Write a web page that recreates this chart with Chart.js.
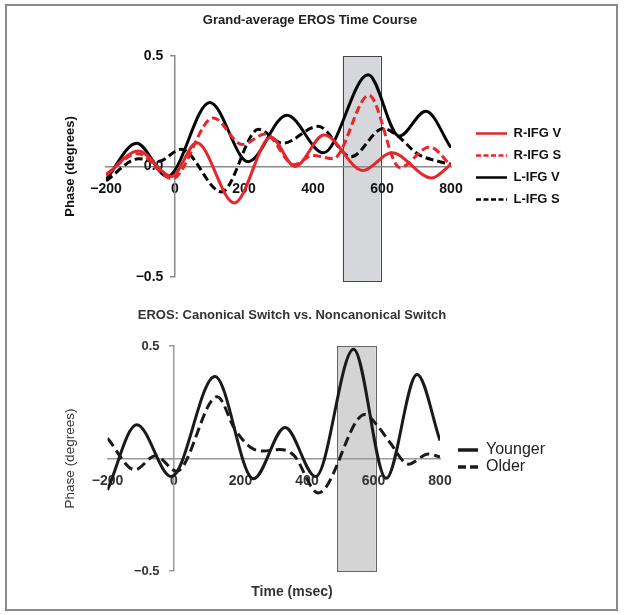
<!DOCTYPE html>
<html><head><meta charset="utf-8">
<script src="https://cdn.jsdelivr.net/npm/chart.js@4.4.1/dist/chart.umd.min.js"></script>
<style>
html,body{margin:0;padding:0;background:#fff;}
#wrap{position:relative;width:624px;height:615px;overflow:hidden;background:#fff;}
#frame{position:absolute;left:5px;top:4px;width:613px;height:607px;border:2px solid #8a8a8a;box-sizing:border-box;}
#c1{position:absolute;left:0;top:0;}
#c2{position:absolute;left:0;top:300px;}
</style></head><body>
<div id="wrap"><div id="frame"></div>
<canvas id="c1" width="624" height="300"></canvas>
<canvas id="c2" width="624" height="315"></canvas>
</div>
<script>
// ---------- data ----------
const xTickValues = [-200, 0, 200, 400, 600, 800];

// Top chart: Grand-average EROS Time Course
const rifgVTime  = [-200, -106, -10, 63, 172, 278, 348, 432, 545, 628, 744, 800];
const rifgVPhase = [-0.04, 0.07, -0.045, 0.107, -0.165, 0.132, 0.0, 0.142, -0.018, 0.062, -0.052, 0.01];

const rifgSTime  = [-200, -108, -8, 111, 195, 262, 345, 400, 458, 562, 652, 738, 800];
const rifgSPhase = [-0.035, 0.058, -0.055, 0.22, 0.1, 0.147, 0.008, 0.05, 0.035, 0.322, -0.005, 0.088, 0.005];

const lifgVTime  = [-200, -111, -22, 101, 212, 324, 430, 560, 650, 727, 800];
const lifgVPhase = [-0.06, 0.105, -0.045, 0.29, 0.022, 0.232, 0.062, 0.415, 0.137, 0.25, 0.085];

const lifgSTime  = [-200, -105, -50, 18, 135, 242, 312, 415, 510, 604, 640, 705, 760, 800];
const lifgSPhase = [-0.065, 0.035, 0.022, 0.078, -0.115, 0.168, 0.105, 0.182, 0.044, 0.172, 0.145, 0.055, 0.025, 0.01];

const topWindow = [486, 596];        // shaded time window (msec)
const topWindowPhase = [0.5, -0.52];

// Bottom chart: Canonical vs Noncanonical switch
const youngerTime  = [-200, -112, -8, 123, 239, 334, 426, 540, 638, 731, 800];
const youngerPhase = [-0.14, 0.15, -0.08, 0.365, -0.09, 0.138, -0.08, 0.486, -0.088, 0.373, 0.08];

const olderTime  = [-200, -118, -55, 8, 130, 183, 230, 268, 318, 360, 434, 574, 615, 650, 705, 765, 800];
const olderPhase = [0.09, -0.05, 0.012, -0.057, 0.275, 0.13, 0.05, 0.033, 0.04, 0.015, -0.153, 0.196, 0.14, 0.07, -0.025, 0.02, 0.007];

const bottomWindow = [491, 607];
const bottomWindowPhase = [0.5, -0.5];

// ---------- helpers ----------
const xy = (ts, vs) => ts.map((t, i) => ({x: t, y: vs[i]}));
const fmtX = v => (v < 0 ? '\u2212' + Math.abs(v) : String(v));
const fmtY = v => (Math.abs(v) < 1e-9 ? '0.0' : (v < 0 ? '\u2212' : '') + Math.abs(v).toFixed(1));
const FONT = "'Liberation Sans', Arial, Helvetica, sans-serif";
Chart.defaults.font.family = FONT;

const shadePlugin = {
  id: 'shade',
  beforeDraw(chart, args, o) {
    const {ctx} = chart, x = chart.scales.x, y = chart.scales.y;
    const x0 = x.getPixelForValue(o.from), x1 = x.getPixelForValue(o.to);
    const y0 = y.getPixelForValue(o.top), y1 = y.getPixelForValue(o.bottom);
    ctx.save();
    ctx.fillStyle = o.fill;
    ctx.fillRect(x0, y0, x1 - x0, y1 - y0);
    ctx.strokeStyle = o.stroke; ctx.lineWidth = 1;
    ctx.strokeRect(Math.round(x0) + 0.5, Math.round(y0) + 0.5, Math.round(x1 - x0), Math.round(y1 - y0));
    ctx.restore();
  }
};

function hiddenAxis(extra) {
  return Object.assign({
    type: 'linear', axis: 'y', display: true,
    ticks: {display: false}, grid: {display: false, drawTicks: false},
    border: {display: false}
  }, extra);
}

function makeChart(el, cfg) {
  const baseLabels = Chart.defaults.plugins.legend.labels.generateLabels;
  return new Chart(el, {
    type: 'line',
    data: {datasets: cfg.datasets},
    plugins: [shadePlugin],
    options: {
      responsive: false, animation: false, devicePixelRatio: 1,
      layout: {padding: cfg.padding},
      elements: {point: {radius: 0}, line: {cubicInterpolationMode: 'monotone', borderCapStyle: 'butt'}},
      scales: {
        x: {
          type: 'linear', position: {y: 0}, min: -200, max: 800,
          afterBuildTicks: s => { s.ticks = xTickValues.map(v => ({value: v})); },
          ticks: {callback: fmtX, font: {size: 14, weight: 'bold'}, color: cfg.tickColor, padding: cfg.xPad, maxRotation: 0, autoSkip: false},
          grid: {display: false, drawTicks: false},
          border: {color: cfg.axisColor, width: 1.5}
        },
        y: {
          type: 'linear', position: {x: 0}, min: -0.5, max: 0.5,
          ticks: {stepSize: 0.5, callback: cfg.yFmt, font: {size: cfg.yTickSize, weight: 'bold'}, color: cfg.tickColor, padding: 0},
          grid: {display: true, drawOnChartArea: false, drawTicks: true, tickLength: 4, color: cfg.axisColor, lineWidth: 1.5},
          border: {color: cfg.axisColor, width: 1.5}
        },
        yTitle: hiddenAxis({position: 'left',
          title: {display: true, text: 'Phase (degrees)', font: cfg.yTitleFont, color: cfg.yTitleColor, padding: cfg.yTitlePad}}),
        rGap: hiddenAxis({position: 'right', weight: 0, afterFit: s => { s.width = cfg.gap; }}),
        rEnd: hiddenAxis({position: 'right', weight: 2000, afterFit: s => { s.width = cfg.endW; }})
      },
      plugins: {
        shade: cfg.shade,
        title: {display: true, text: cfg.title, font: {size: 13, weight: 'bold'}, color: cfg.titleColor, padding: cfg.titlePad},
        subtitle: cfg.subtitle,
        legend: {
          display: true, position: 'right', align: 'center', fullSize: false, maxWidth: cfg.legendW,
          labels: {
            usePointStyle: true, pointStyle: 'line', pointStyleWidth: cfg.legendLine,
            font: cfg.legendFont, color: cfg.legendColor, padding: cfg.legendPad,
            generateLabels: chart => baseLabels(chart).map(item => {
              const ds = chart.data.datasets[item.datasetIndex];
              item.lineDash = cfg.legendDash[item.datasetIndex] || [];
              item.lineWidth = cfg.legendLineWidth;
              item.strokeStyle = ds.borderColor;
              item.fillStyle = ds.borderColor;
              return item;
            })
          }
        },
        tooltip: {enabled: false}
      }
    }
  });
}

const RED = '#e5262b', BLACK = '#050505';

makeChart(document.getElementById('c1'), {
  datasets: [
    {label: 'R-IFG V', data: xy(rifgVTime, rifgVPhase), borderColor: RED, backgroundColor: RED, borderWidth: 3, xAxisID: 'x', yAxisID: 'y'},
    {label: 'R-IFG S', data: xy(rifgSTime, rifgSPhase), borderColor: RED, backgroundColor: RED, borderWidth: 3, borderDash: [8, 4], xAxisID: 'x', yAxisID: 'y'},
    {label: 'L-IFG V', data: xy(lifgVTime, lifgVPhase), borderColor: BLACK, backgroundColor: BLACK, borderWidth: 3, xAxisID: 'x', yAxisID: 'y'},
    {label: 'L-IFG S', data: xy(lifgSTime, lifgSPhase), borderColor: BLACK, backgroundColor: BLACK, borderWidth: 3, borderDash: [8, 4], xAxisID: 'x', yAxisID: 'y'}
  ],
  padding: {left: 0, right: 4, top: 0, bottom: 23},
  tickColor: '#111', axisColor: '#8a8a8a', xPad: 14, yTickSize: 14,
  yFmt: v => fmtY(v) + '   ',
  yTitleFont: {size: 13, weight: 'bold'}, yTitleColor: '#111', yTitlePad: {top: 62.2, bottom: 28.2},
  gap: 16, endW: 53, legendW: 100,
  shade: {from: topWindow[0], to: topWindow[1], top: topWindowPhase[0], bottom: topWindowPhase[1], fill: '#d6d7da', stroke: '#444'},
  title: 'Grand-average EROS Time Course', titleColor: '#222', titlePad: {top: 12.2, bottom: 28.2},
  subtitle: {display: false},
  legendLine: 31, legendFont: {size: 13, weight: 'bold'}, legendColor: '#111', legendPad: 9,
  legendDash: [[], [5, 2.5], [], [5, 2.5]], legendLineWidth: 2.5
});

makeChart(document.getElementById('c2'), {
  datasets: [
    {label: 'Younger', data: xy(youngerTime, youngerPhase), borderColor: '#1a1a1a', backgroundColor: '#1a1a1a', borderWidth: 3, xAxisID: 'x', yAxisID: 'y'},
    {label: 'Older', data: xy(olderTime, olderPhase), borderColor: '#1a1a1a', backgroundColor: '#1a1a1a', borderWidth: 3, borderDash: [10, 5], xAxisID: 'x', yAxisID: 'y'}
  ],
  padding: {left: 0, right: 40, top: 0, bottom: 0},
  tickColor: '#333', axisColor: '#999', xPad: 14, yTickSize: 13,
  yFmt: v => (Math.abs(v) < 1e-9 ? '' : fmtY(v) + '    '),
  yTitleFont: {size: 13.5, weight: 'normal'}, yTitleColor: '#333', yTitlePad: {top: 61.9, bottom: 29.4},
  gap: 17, endW: 32, legendW: 95,
  shade: {from: bottomWindow[0], to: bottomWindow[1], top: bottomWindowPhase[0], bottom: bottomWindowPhase[1], fill: '#d4d4d4', stroke: '#666'},
  title: 'EROS: Canonical Switch vs. Noncanonical Switch', titleColor: '#333', titlePad: {top: 7.2, bottom: 23.2},
  subtitle: {display: true, position: 'bottom', text: 'Time (msec)', font: {size: 14, weight: 'bold'}, color: '#333', padding: {top: 12.6, bottom: 14.6}},
  legendLine: 20, legendFont: {size: 16, weight: 'normal'}, legendColor: '#222', legendPad: 1,
  legendDash: [[], [8, 4]], legendLineWidth: 3.5
});
</script>
</body></html>
